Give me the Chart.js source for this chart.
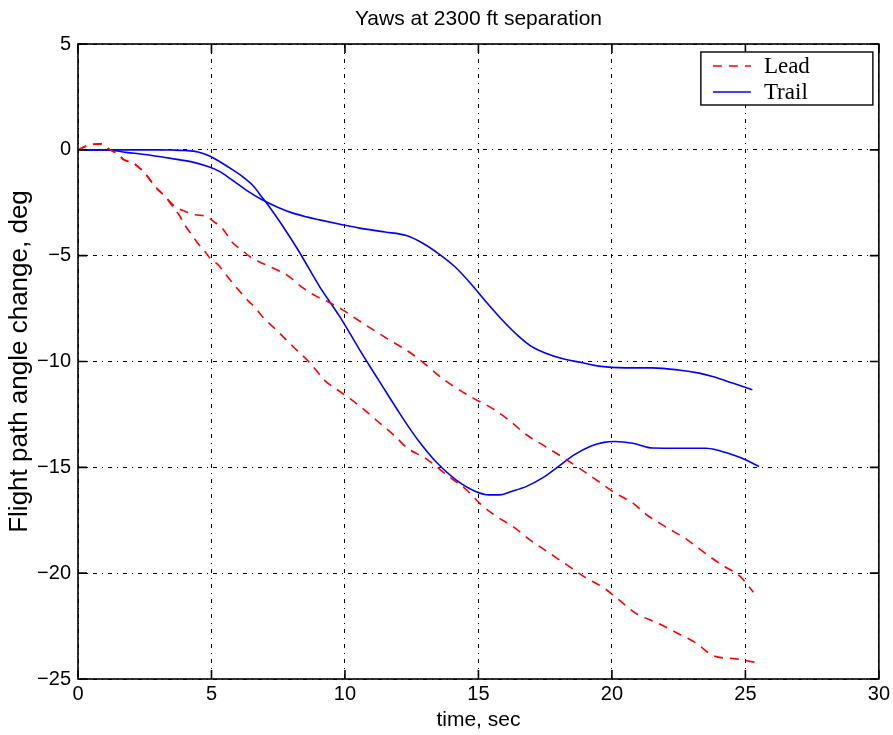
<!DOCTYPE html>
<html><head><meta charset="utf-8">
<script src="https://cdn.jsdelivr.net/npm/chart.js@4.4.0/dist/chart.umd.min.js"></script>
<style>html,body{margin:0;padding:0;background:#fff}#wrap{width:893px;height:735px}</style>
</head><body><div id="wrap"><canvas id="c" width="893" height="735"></canvas></div>
<script>
const chartTitle = 'Yaws at 2300 ft separation';
const xTitle = 'time, sec';
const yTitle = 'Flight path angle change, deg';
const xTicks = [0, 5, 10, 15, 20, 25, 30];
const yTicks = [5, 0, -5, -10, -15, -20, -25];
const legendLabels = ['Lead', 'Trail'];

const leadAT = [0, 0.45, 0.85, 1.2, 1.45, 1.7, 2.1, 2.5, 2.9, 3.3, 3.65, 4.0, 4.4, 4.8, 5.1, 5.4, 5.8, 6.1, 6.5, 6.8, 7.3, 7.9, 8.4, 8.9, 9.4, 9.9, 10.2, 11.3, 12.55, 13.8, 14.8, 15.5, 16.2, 16.8, 17.5, 18.2, 18.8, 19.5, 20.1, 20.8, 21.3, 22.0, 22.8, 23.4, 24.1, 24.8, 25.3];
const leadAV = [0, 0.24, 0.28, 0.0, -0.16, -0.45, -0.65, -1.1, -1.75, -2.25, -2.7, -2.9, -3.07, -3.14, -3.4, -3.7, -4.4, -4.7, -5.1, -5.3, -5.58, -5.98, -6.5, -6.9, -7.2, -7.55, -7.8, -8.7, -9.68, -10.94, -11.73, -12.2, -12.83, -13.46, -14.01, -14.56, -15.06, -15.67, -16.2, -16.7, -17.24, -17.8, -18.4, -18.97, -19.6, -20.15, -20.9];

const leadBT = [0, 0.45, 0.85, 1.2, 1.45, 1.7, 2.1, 2.5, 2.9, 3.3, 3.5, 3.8, 4.0, 4.25, 4.45, 4.75, 4.95, 5.3, 5.45, 5.8, 6.0, 6.4, 6.6, 6.9, 7.5, 8.1, 8.7, 9.25, 9.9, 10.55, 11.2, 11.85, 12.35, 13.05, 13.8, 14.55, 15.05, 15.65, 16.3, 16.9, 17.6, 18.3, 19.0, 19.7, 20.3, 20.9, 21.7, 22.4, 23.15, 23.8, 24.65, 25.5];
const leadBV = [0, 0.24, 0.28, 0.0, -0.16, -0.45, -0.65, -1.1, -1.75, -2.25, -2.6, -3.1, -3.55, -4.0, -4.35, -4.8, -5.12, -5.5, -5.75, -6.3, -6.6, -7.17, -7.4, -7.87, -8.6, -9.35, -10.08, -10.9, -11.5, -12.1, -12.8, -13.5, -14.1, -14.6, -15.35, -16.06, -16.7, -17.3, -17.8, -18.4, -19.0, -19.6, -20.2, -20.7, -21.3, -21.9, -22.35, -22.8, -23.3, -23.9, -24.05, -24.25];

const trailAT = [0, 1.07, 1.8, 2.5, 3.1, 3.7, 4.3, 4.9, 5.3, 5.8, 6.3, 6.9, 7.5, 8.05, 8.6, 9.05, 9.9, 10.55, 11.5, 12.3, 12.9, 13.5, 14.1, 14.7, 15.3, 15.9, 16.5, 17.0, 17.5, 18.1, 18.9, 19.5, 20.5, 21.5, 22.5, 23.27, 23.77, 24.52, 25.26];
const trailAV = [0, 0, -0.12, -0.22, -0.33, -0.45, -0.58, -0.8, -1.02, -1.45, -1.9, -2.36, -2.72, -2.99, -3.18, -3.31, -3.54, -3.7, -3.88, -4.05, -4.4, -4.9, -5.5, -6.3, -7.2, -8.05, -8.8, -9.3, -9.6, -9.85, -10.06, -10.22, -10.3, -10.3, -10.4, -10.55, -10.71, -11.02, -11.34];

const trailBT = [0, 1, 2, 3, 3.5, 4.0, 4.5, 4.95, 5.3, 5.8, 6.2, 6.56, 6.87, 7.2, 7.56, 7.9, 8.3, 9.05, 9.8, 10.55, 10.92, 11.42, 12.05, 12.5, 12.79, 13.42, 14.17, 14.92, 15.4, 15.79, 16.2, 16.8, 17.4, 18.0, 18.6, 19.2, 19.7, 20.1, 20.78, 21.52, 22.5, 23.52, 23.89, 24.52, 25.0, 25.51];
const trailBV = [0, 0, 0, 0, -0.01, -0.03, -0.1, -0.3, -0.55, -0.95, -1.3, -1.7, -2.2, -2.75, -3.4, -4.05, -4.85, -6.46, -7.87, -9.45, -10.2, -11.2, -12.45, -13.3, -13.8, -14.75, -15.6, -16.15, -16.3, -16.3, -16.15, -15.9, -15.5, -14.95, -14.4, -14.0, -13.82, -13.78, -13.86, -14.09, -14.1, -14.1, -14.17, -14.41, -14.64, -14.96];

const RED = '#ff0000', BLUE = '#0000ff';
const pts = (t, v) => t.map((x, i) => ({x: x, y: v[i]}));
const SANS = "'Liberation Sans', Arial, Helvetica, sans-serif";
const SERIF = "'Liberation Serif', 'Times New Roman', serif";
const fmt = v => (v < 0 ? '\u2212' + Math.abs(v) : String(v));

const framePlugin = {
  id: 'frame',
  afterDraw(chart) {
    const ctx = chart.ctx, a = chart.chartArea;
    const xs = chart.scales.x, ys = chart.scales.y;
    ctx.save();
    ctx.strokeStyle = '#000';
    ctx.lineWidth = 1.6;
    ctx.setLineDash([]);
    ctx.strokeRect(a.left, a.top, a.right - a.left, a.bottom - a.top);
    const tl = 9;
    ctx.beginPath();
    xs.ticks.forEach(t => {
      const px = xs.getPixelForValue(t.value);
      ctx.moveTo(px, a.bottom); ctx.lineTo(px, a.bottom - tl);
      ctx.moveTo(px, a.top); ctx.lineTo(px, a.top + tl);
    });
    ys.ticks.forEach(t => {
      const py = ys.getPixelForValue(t.value);
      ctx.moveTo(a.left, py); ctx.lineTo(a.left + tl, py);
      ctx.moveTo(a.right, py); ctx.lineTo(a.right - tl, py);
    });
    ctx.stroke();
    // title
    ctx.fillStyle = '#000';
    ctx.font = '21px ' + SANS;
    ctx.textAlign = 'center';
    ctx.textBaseline = 'middle';
    ctx.fillText(chartTitle, (a.left + a.right) / 2, 19);
    // legend
    const bx = a.right - 178, by = a.top + 8, bw = 172, bh = 53;
    ctx.fillStyle = '#fff';
    ctx.fillRect(bx, by, bw, bh);
    ctx.lineWidth = 1.4;
    ctx.strokeStyle = '#000';
    ctx.strokeRect(bx, by, bw, bh);
    const items = [];
    chart.data.datasets.forEach(d => { if (!items.find(i => i.label === d.label)) items.push(d); });
    items.forEach((d, i) => {
      const y = by + 14 + i * 26;
      ctx.beginPath();
      ctx.strokeStyle = d.borderColor;
      ctx.lineWidth = 1.6;
      ctx.setLineDash(d.borderDash || []);
      ctx.moveTo(bx + 12, y); ctx.lineTo(bx + 50, y);
      ctx.stroke();
      ctx.setLineDash([]);
      ctx.fillStyle = '#000';
      ctx.font = '23px ' + SERIF;
      ctx.textAlign = 'left';
      ctx.textBaseline = 'middle';
      ctx.fillText(d.label, bx + 63, y + 1);
    });
    ctx.restore();
  }
};

const lineDs = (label, data, color, dash) => ({
  label: label, data: data, borderColor: color, backgroundColor: color,
  borderWidth: 1.6, borderDash: dash, pointRadius: 0, fill: false,
  cubicInterpolationMode: 'monotone'
});

new Chart(document.getElementById('c'), {
  type: 'line',
  data: {
    datasets: [
      lineDs(legendLabels[0], pts(leadAT, leadAV), RED, [9, 7]),
      lineDs(legendLabels[0], pts(leadBT, leadBV), RED, [9, 7]),
      lineDs(legendLabels[1], pts(trailAT, trailAV), BLUE, []),
      lineDs(legendLabels[1], pts(trailBT, trailBV), BLUE, [])
    ]
  },
  options: {
    responsive: false,
    animation: false,
    devicePixelRatio: 1,
    layout: {padding: {top: 44, right: 13, bottom: 0, left: 0}},
    plugins: {legend: {display: false}, title: {display: false}, tooltip: {enabled: false}},
    scales: {
      x: {
        type: 'linear', min: 0, max: 30,
        afterBuildTicks: s => { s.ticks = xTicks.map(v => ({value: v})); },
        afterFit: s => { s.height = 56; },
        grid: {color: '#000', lineWidth: 1, drawTicks: false},
        border: {display: false, dash: [4, 5, 1, 5]},
        ticks: {color: '#000', font: {family: SANS, size: 20}, padding: 3, maxRotation: 0, callback: fmt},
        title: {display: true, text: xTitle, color: '#000', font: {family: SANS, size: 21}, padding: {top: 0, bottom: 2}}
      },
      y: {
        type: 'linear', min: -25, max: 5,
        afterBuildTicks: s => { s.ticks = yTicks.map(v => ({value: v})); },
        afterFit: s => { s.width = 78; },
        grid: {color: '#000', lineWidth: 1, drawTicks: false},
        border: {display: false, dash: [4, 5, 1, 5]},
        ticks: {color: '#000', font: {family: SANS, size: 20}, padding: 7, callback: fmt},
        title: {display: true, text: yTitle, color: '#000', font: {family: SANS, size: 26}, padding: {top: 4, bottom: 0}}
      }
    }
  },
  plugins: [framePlugin]
});
</script></body></html>
